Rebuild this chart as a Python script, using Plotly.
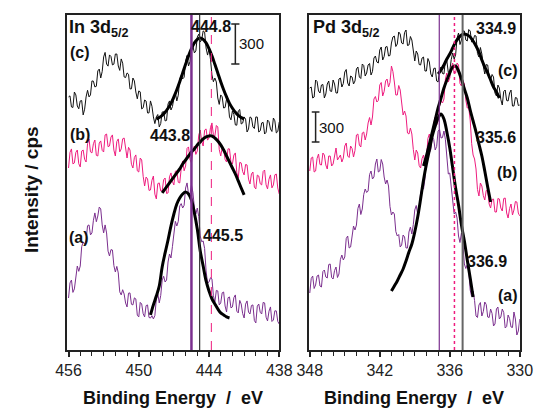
import plotly.graph_objects as go

# ---------------- data ----------------
# energy grids (eV), 0.125 eV sampling
E_IN = [round(456 - 0.125 * i, 3) for i in range(145)]   # 456 -> 438
E_PD = [round(348 - 0.125 * i, 3) for i in range(145)]   # 348 -> 330

# In 3d5/2 spectra (cps, stacked)
IN_C = [1898,1906,1823,1819,1935,1913,1830,1809,1868,1871,1763,1806,1898,1948,1898,1913,2018,2016,1973,1978,
        2093,2107,2040,2089,2198,2232,2145,2129,2213,2201,2138,2144,2220,2220,2130,2097,2183,2151,2048,2043,
        2078,2068,1958,1959,2040,2018,1935,1884,1943,1936,1808,1817,1875,1867,1778,1778,1868,1828,1748,1698,
        1748,1766,1673,1699,1785,1787,1718,1722,1845,1868,1800,1825,1890,1929,1868,1911,2033,2058,2033,2046,
        2168,2209,2130,2163,2265,2277,2228,2243,2348,2369,2310,2327,2393,2384,2265,2212,2258,2181,2063,2012,
        2040,2010,1890,1842,1913,1899,1815,1819,1883,1866,1748,1726,1793,1766,1688,1686,1793,1804,1695,1702,
        1748,1732,1635,1657,1748,1741,1673,1661,1748,1747,1635,1644,1703,1707,1620,1633,1725,1712,1658,1639,
        1740,1719,1628,1639,1710]
IN_B = [1365,1482,1508,1396,1403,1482,1500,1397,1373,1492,1500,1430,1410,1547,1583,1486,1478,1547,1575,1460,
        1455,1552,1568,1497,1485,1613,1620,1525,1530,1597,1613,1499,1455,1564,1583,1486,1508,1584,1590,1495,
        1440,1520,1500,1393,1365,1444,1463,1344,1335,1440,1425,1303,1230,1297,1283,1197,1200,1273,1305,1169,
        1133,1248,1253,1193,1193,1277,1290,1174,1178,1298,1328,1263,1238,1341,1343,1258,1253,1361,1418,1344,
        1380,1512,1523,1428,1403,1497,1530,1467,1493,1612,1650,1565,1530,1649,1658,1574,1590,1667,1703,1614,
        1605,1684,1673,1504,1455,1517,1508,1429,1410,1509,1508,1407,1395,1462,1478,1329,1290,1407,1403,1338,
        1313,1391,1388,1282,1245,1320,1335,1222,1208,1312,1305,1247,1238,1339,1350,1239,1208,1281,1313,1216,
        1238,1314,1320,1215,1170]
IN_A = [390,503,525,432,458,574,630,590,630,775,810,793,825,932,938,863,878,973,1028,962,
        1005,1072,1058,938,878,938,878,742,705,753,750,633,585,627,578,436,413,452,420,352,
        323,426,428,343,338,391,383,261,248,357,345,272,248,333,338,244,240,257,233,258,
        383,423,353,409,525,553,510,525,660,720,690,775,900,965,930,965,1080,1098,1065,1085,
        1215,1253,1170,1169,1238,1182,1065,1020,1065,1000,855,812,818,761,593,502,510,542,533,407,
        360,447,443,338,353,429,435,330,285,392,398,316,323,393,413,291,278,372,345,273,
        240,344,368,284,270,334,338,221,203,329,345,283,270,357,353,246,218,291,323,214,
        225,294,293,214,195]

# In fits
IN_FIT_C_E = [round(448.5 - 0.25 * i, 2) for i in range(31)]
IN_FIT_C = [1732,1743,1760,1783,1813,1850,1898,1952,2012,2078,2143,2206,2261,2303,2330,2340,
            2330,2303,2261,2206,2143,2078,2012,1952,1898,1850,1813,1783,1760,1743,1732]
IN_FIT_B_E = [round(448.0 - 0.25 * i, 2) for i in range(29)]
IN_FIT_B = [1178,1208,1238,1268,1298,1328,1358,1395,1425,1455,1485,1508,1538,1560,1583,1598,
            1605,1605,1590,1568,1538,1500,1455,1410,1365,1320,1268,1215,1163]
IN_FIT_A_E = [round(449.0 - 0.25 * i, 2) for i in range(28)]
IN_FIT_A = [263,338,405,480,623,728,825,930,1020,1095,1140,1170,1185,1170,1125,1028,
            908,743,630,518,443,383,345,308,278,263,248,240]

# Pd 3d5/2 spectra (cps, stacked)
PD_C = [2620,2630,2520,2530,2700,2685,2590,2570,2650,2655,2520,2560,2660,2690,2590,2585,2700,2660,2570,2570,
        2710,2720,2630,2665,2780,2805,2670,2640,2740,2730,2660,2690,2810,2830,2730,2715,2860,2845,2740,2770,
        2850,2865,2750,2785,2920,2940,2880,2870,3000,3030,2900,2935,3030,3035,2940,2945,3070,3130,3140,3035,
        3060,3180,3160,3070,3060,3175,3200,3045,3050,3135,3100,2970,2890,2990,2960,2855,2850,2920,2930,2790,
        2790,2915,2880,2760,2730,2815,2820,2690,2680,2805,2830,2765,2760,2895,2890,2775,2790,2905,2970,2910,
        2950,3120,3170,3055,3100,3190,3190,3100,3090,3205,3190,3080,3090,3145,3140,2965,2930,3025,2960,2835,
        2760,2855,2850,2730,2700,2755,2730,2570,2540,2650,2620,2505,2450,2585,2600,2495,2490,2570,2600,2440,
        2440,2525,2520,2445,2450]
PD_B = [1790,1920,1930,1780,1790,1915,1960,1855,1850,1970,1950,1850,1810,1940,1940,1840,1860,1965,2020,1900,
        1920,1950,1880,1920,2040,2070,1940,1925,2040,2015,1930,1995,2150,2160,2050,2030,2170,2180,2100,2160,
        2270,2325,2250,2330,2510,2535,2480,2495,2650,2675,2540,2585,2690,2710,2630,2675,2840,2785,2680,2550,
        2550,2645,2600,2435,2350,2390,2340,2170,2160,2220,2160,2005,1900,2000,1970,1845,1820,1915,1950,1860,
        1910,2115,2160,2100,2130,2270,2330,2250,2290,2440,2490,2470,2510,2710,2770,2680,2720,2820,2870,2770,
        2770,2870,2850,2665,2640,2695,2660,2500,2420,2425,2300,2065,1950,1910,1810,1605,1540,1670,1640,1545,
        1500,1595,1590,1460,1420,1505,1510,1380,1380,1515,1510,1420,1390,1515,1520,1370,1320,1415,1460,1350,
        1400,1485,1480,1370,1340]
PD_A = [570,715,740,615,650,740,750,640,630,785,800,730,720,855,860,725,710,795,830,725,
        760,905,950,900,930,1115,1140,1020,1030,1165,1240,1200,1250,1415,1460,1355,1410,1555,1610,1575,
        1590,1755,1790,1710,1730,1860,1910,1780,1790,1905,1860,1730,1660,1700,1640,1435,1350,1380,1360,1185,
        1140,1155,1030,1050,1150,1130,1020,1020,1180,1230,1160,1255,1400,1445,1360,1415,1570,1620,1610,1715,
        1960,2045,1970,2005,2130,2105,2000,2035,2190,2205,2120,2125,2190,2105,1880,1760,1770,1630,1440,1360,
        1380,1320,1140,1075,1170,1060,860,815,850,790,600,535,590,495,340,325,450,475,340,385,
        480,455,330,325,410,365,240,260,410,430,310,330,410,375,220,235,350,315,230,225,
        380,310,150,190,310]

# Pd fits
PD_FIT_C_E = [round(337.0 - 0.25 * i, 2) for i in range(22)]
PD_FIT_C = [2760,2800,2850,2910,2960,3020,3080,3120,3150,3160,3150,3130,3090,3040,2980,
            2900,2830,2770,2700,2630,2580,2520]
PD_FIT_B_E = [round(338.25 - 0.25 * i, 2) for i in range(24)]
PD_FIT_B = [1840,1940,2060,2180,2300,2420,2520,2620,2700,2770,2830,2840,2790,2710,2610,
            2520,2400,2290,2180,2060,1940,1790,1630,1480]
PD_FIT_A_E = [round(341.0 - 0.25 * i, 2) for i in range(29)]
PD_FIT_A = [590,640,690,750,810,890,980,1060,1180,1330,1510,1700,1860,2000,2140,2240,
            2320,2360,2310,2180,2020,1820,1620,1450,1250,1090,900,720,530]

# peak positions (eV)
IN_PEAKS = {"a": 445.5, "b": 443.8, "c": 444.8}
PD_PEAKS = {"a": 336.9, "b": 335.6, "c": 334.9}
SCALE_CPS = 300

# ---------------- style ----------------
W, H = 549, 410
BLACK = "#111111"
PINK = "#EE1C7E"
PURPLE = "#7B2F8E"
GRAY = "#666666"
FONT = "Liberation Sans, Arial, sans-serif"


def pxx(x):
    return x / W


def pxy(y):
    return 1 - y / H


fig = go.Figure()


def add_line(x, y, color, width, ax, shape="linear"):
    fig.add_trace(go.Scatter(
        x=x, y=y, mode="lines",
        line=dict(color=color, width=width, shape=shape),
        xaxis=ax[0], yaxis=ax[1], showlegend=False, hoverinfo="skip"))


L = ("x", "y")
R = ("x2", "y2")
add_line(E_IN, IN_C, BLACK, 1, L)
add_line(E_IN, IN_B, PINK, 1, L)
add_line(E_IN, IN_A, PURPLE, 1, L)
add_line(E_PD, PD_C, BLACK, 1, R)
add_line(E_PD, PD_B, PINK, 1, R)
add_line(E_PD, PD_A, PURPLE, 1, R)

add_line(IN_FIT_C_E, IN_FIT_C, "#000000", 3, L, "spline")
add_line(IN_FIT_B_E, IN_FIT_B, "#000000", 3, L, "spline")
add_line(IN_FIT_A_E, IN_FIT_A, "#000000", 3, L, "spline")
add_line(PD_FIT_C_E, PD_FIT_C, "#000000", 3, R, "spline")
add_line(PD_FIT_B_E, PD_FIT_B, "#000000", 3, R, "spline")
add_line(PD_FIT_A_E, PD_FIT_A, "#000000", 3, R, "spline")

shapes = []


def vline(x, xref, yref, color, width, dash="solid"):
    shapes.append(dict(type="line", xref=xref, yref=yref + " domain", x0=x, x1=x,
                       y0=0, y1=1, line=dict(color=color, width=width, dash=dash)))


vline(IN_PEAKS["a"], "x", "y", PURPLE, 2.5)
vline(IN_PEAKS["c"], "x", "y", "#333333", 1.2)
vline(IN_PEAKS["b"], "x", "y", PINK, 1, "dash")
vline(PD_PEAKS["a"], "x2", "y2", PURPLE, 1.2)
vline(PD_PEAKS["b"], "x2", "y2", PINK, 1.5, "dot")
vline(PD_PEAKS["c"], "x2", "y2", GRAY, 2)


def scalebar(x, y0, half, xref, yref):
    y1 = y0 + SCALE_CPS
    ln = dict(color="#222222", width=1.5)
    shapes.append(dict(type="line", xref=xref, yref=yref, x0=x, x1=x, y0=y0, y1=y1, line=ln))
    shapes.append(dict(type="line", xref=xref, yref=yref, x0=x - half, x1=x + half, y0=y0, y1=y0, line=ln))
    shapes.append(dict(type="line", xref=xref, yref=yref, x0=x - half, x1=x + half, y0=y1, y1=y1, line=ln))


scalebar(441.75, 2145, 0.35, "x", "y")
scalebar(347.5, 2080, 0.33, "x2", "y2")

ann = []


def text(t, x, y, size, xanchor="center", bold=True, angle=0, color="#111111"):
    ann.append(dict(text=("<b>%s</b>" % t) if bold else t, x=pxx(x), y=pxy(y),
                    xref="paper", yref="paper", xanchor=xanchor, yanchor="middle",
                    showarrow=False, textangle=angle,
                    font=dict(family=FONT, size=size, color=color)))


text("In 3d<sub>5/2</sub>", 58, 29, 18, "left")
text("Pd 3d<sub>5/2</sub>", 313, 28, 18, "left")
text("(c)", 71, 52, 16)
text("(b)", 71, 134, 16)
text("(a)", 70, 238, 16)
text("(c)", 520, 70, 16)
text("(b)", 519, 173, 16)
text("(a)", 520, 295, 16)
text("444.8", 208, 26, 16)
text("443.8", 166, 135, 16)
text("445.5", 221, 236, 16)
text("334.9", 507, 29, 16)
text("335.6", 507, 137, 16)
text("336.9", 498, 261, 16)
text("300", 236, 44, 15, "left", bold=False)
text("300", 320, 127, 15, "left", bold=False)
text("Binding Energy\u00a0 /\u00a0 eV", 169, 398, 18)
text("Binding Energy\u00a0 /\u00a0 eV", 421.5, 398, 18)
text("Intensity / cps", 20, 190, 19, angle=-90)

common_x = dict(showgrid=False, zeroline=False, showline=True, mirror=True,
                linewidth=1.5, linecolor="#222222", ticks="outside", ticklen=5,
                tickwidth=1.5, tickcolor="#222222", tickmode="linear", dtick=6,
                tickfont=dict(family=FONT, size=16, color="#222222"),
                minor=dict(dtick=1, ticks="outside", ticklen=4, tickwidth=1,
                           tickcolor="#222222", showgrid=False))
common_y = dict(showgrid=False, zeroline=False, showline=True, mirror=True,
                linewidth=1.5, linecolor="#222222", ticks="", showticklabels=False,
                domain=[pxy(350), pxy(15)])

fig.update_layout(
    width=W, height=H, margin=dict(l=0, r=0, t=0, b=0),
    paper_bgcolor="white", plot_bgcolor="white",
    xaxis=dict(common_x, domain=[pxx(58), pxx(280)], range=[456.1, 438], tick0=456, anchor="y"),
    yaxis=dict(common_y, range=[0, 2512.5], anchor="x"),
    xaxis2=dict(common_x, domain=[pxx(311), pxx(532)], range=[348.08, 330], tick0=348, anchor="y2"),
    yaxis2=dict(common_y, range=[0, 3350], anchor="x2"),
    shapes=shapes, annotations=ann, showlegend=False,
)

fig.write_html("out.html")
